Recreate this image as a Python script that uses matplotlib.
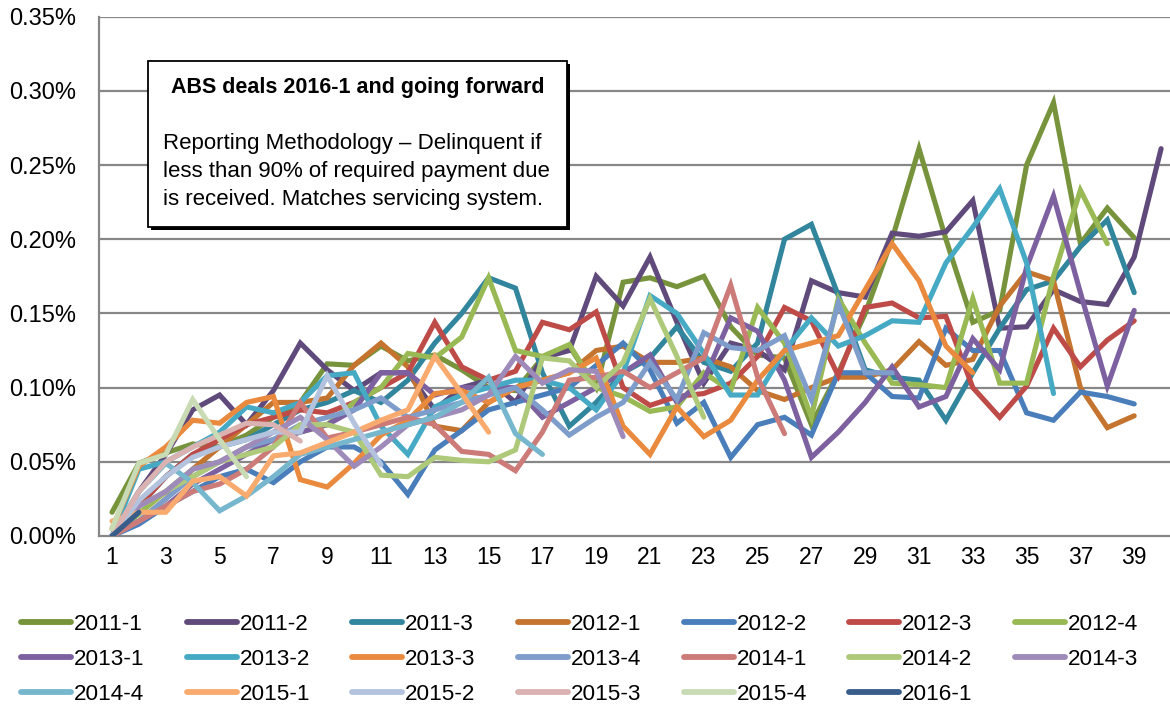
import matplotlib
matplotlib.use("Agg")
import matplotlib.pyplot as plt
from matplotlib.patches import Rectangle

plt.rcParams['font.family'] = ['Liberation Sans', 'DejaVu Sans']

# ---------------- data (delinquency %, by months since issuance) ----------------
labels = ["2011-1", "2011-2", "2011-3", "2012-1", "2012-2", "2012-3", "2012-4",
          "2013-1", "2013-2", "2013-3", "2013-4", "2014-1", "2014-2", "2014-3",
          "2014-4", "2015-1", "2015-2", "2015-3", "2015-4", "2016-1"]

colors = ["#77933C", "#604A7B", "#31859C", "#C4742F", "#4A7EBB", "#BE4B48", "#98B954",
          "#7D60A0", "#46AAC5", "#EA8A3E", "#7F9DCB", "#CC7B79", "#AFC97A", "#9E8BBA",
          "#77B7CD", "#F9AB6F", "#B3C3DE", "#DAB2B1", "#C9DBB4", "#385D8A"]

s2011_1 = [0.016, 0.049, 0.056, 0.062, 0.060, 0.068, 0.080, 0.090, 0.116, 0.115,
           0.128, 0.118, 0.122, 0.112, 0.100, 0.098, 0.120, 0.128, 0.100, 0.171,
           0.174, 0.168, 0.175, 0.141, 0.122, 0.120, 0.075, 0.110, 0.150, 0.200,
           0.261, 0.200, 0.144, 0.152, 0.250, 0.292, 0.197, 0.221, 0.201]
s2011_2 = [0.000, 0.030, 0.055, 0.085, 0.095, 0.075, 0.098, 0.130, 0.112, 0.098,
           0.110, 0.110, 0.085, 0.100, 0.105, 0.090, 0.120, 0.125, 0.175, 0.155,
           0.188, 0.144, 0.103, 0.130, 0.125, 0.112, 0.172, 0.164, 0.161, 0.204,
           0.202, 0.205, 0.226, 0.140, 0.141, 0.166, 0.158, 0.156, 0.188, 0.261]
s2011_3 = [0.000, 0.020, 0.040, 0.055, 0.060, 0.065, 0.075, 0.085, 0.090, 0.098,
           0.090, 0.105, 0.130, 0.150, 0.174, 0.167, 0.110, 0.074, 0.090, 0.110,
           0.120, 0.141, 0.117, 0.111, 0.130, 0.200, 0.210, 0.162, 0.112, 0.107,
           0.105, 0.078, 0.110, 0.140, 0.166, 0.172, 0.195, 0.213, 0.164]
s2012_1 = [0.000, 0.010, 0.025, 0.045, 0.060, 0.075, 0.090, 0.090, 0.093, 0.115,
           0.130, 0.114, 0.074, 0.071, 0.090, 0.100, 0.105, 0.110, 0.125, 0.128,
           0.117, 0.117, 0.120, 0.114, 0.098, 0.092, 0.100, 0.107, 0.107, 0.112,
           0.131, 0.115, 0.119, 0.155, 0.178, 0.172, 0.100, 0.073, 0.081]
s2012_2 = [0.000, 0.008, 0.020, 0.030, 0.040, 0.045, 0.036, 0.050, 0.060, 0.060,
           0.050, 0.028, 0.058, 0.071, 0.085, 0.090, 0.095, 0.100, 0.115, 0.130,
           0.112, 0.076, 0.090, 0.053, 0.075, 0.080, 0.068, 0.110, 0.110, 0.094,
           0.093, 0.140, 0.125, 0.125, 0.083, 0.078, 0.097, 0.094, 0.089]
s2012_3 = [0.000, 0.020, 0.040, 0.055, 0.065, 0.075, 0.080, 0.085, 0.083, 0.090,
           0.100, 0.110, 0.144, 0.114, 0.105, 0.111, 0.144, 0.139, 0.151, 0.100,
           0.088, 0.094, 0.096, 0.103, 0.121, 0.154, 0.145, 0.108, 0.154, 0.157,
           0.147, 0.148, 0.100, 0.080, 0.101, 0.140, 0.114, 0.132, 0.145]
s2012_4 = [0.000, 0.015, 0.030, 0.045, 0.050, 0.060, 0.065, 0.070, 0.075, 0.090,
           0.100, 0.123, 0.120, 0.134, 0.174, 0.125, 0.121, 0.129, 0.100, 0.094,
           0.084, 0.087, 0.110, 0.098, 0.154, 0.130, 0.080, 0.160, 0.130, 0.103,
           0.102, 0.100, 0.160, 0.103, 0.103, 0.175, 0.233, 0.197]
s2013_1 = [0.000, 0.010, 0.020, 0.035, 0.045, 0.055, 0.065, 0.070, 0.075, 0.085,
           0.110, 0.110, 0.095, 0.100, 0.100, 0.100, 0.080, 0.090, 0.100, 0.110,
           0.122, 0.090, 0.105, 0.147, 0.138, 0.105, 0.053, 0.070, 0.090, 0.114,
           0.087, 0.094, 0.133, 0.112, 0.181, 0.229, 0.164, 0.101, 0.152]
s2013_2 = [0.000, 0.045, 0.050, 0.060, 0.070, 0.087, 0.083, 0.090, 0.108, 0.110,
           0.074, 0.055, 0.087, 0.095, 0.100, 0.105, 0.105, 0.100, 0.085, 0.110,
           0.162, 0.150, 0.123, 0.095, 0.095, 0.125, 0.147, 0.128, 0.135, 0.145,
           0.144, 0.184, 0.208, 0.234, 0.184, 0.096]
s2013_3 = [0.005, 0.047, 0.060, 0.078, 0.076, 0.090, 0.094, 0.038, 0.033, 0.049,
           0.068, 0.078, 0.096, 0.098, 0.090, 0.100, 0.105, 0.110, 0.120, 0.074,
           0.055, 0.087, 0.067, 0.078, 0.105, 0.125, 0.130, 0.135, 0.166, 0.197,
           0.172, 0.128, 0.110]
s2013_4 = [0.000, 0.010, 0.025, 0.040, 0.050, 0.060, 0.065, 0.075, 0.080, 0.085,
           0.093, 0.080, 0.085, 0.090, 0.095, 0.100, 0.085, 0.068, 0.080, 0.090,
           0.117, 0.092, 0.137, 0.127, 0.125, 0.135, 0.092, 0.157, 0.110, 0.110]
s2014_1 = [0.000, 0.010, 0.020, 0.030, 0.035, 0.045, 0.060, 0.090, 0.066, 0.070,
           0.075, 0.080, 0.075, 0.057, 0.055, 0.044, 0.070, 0.105, 0.107, 0.111,
           0.100, 0.110, 0.120, 0.169, 0.107, 0.069]
s2014_2 = [0.000, 0.020, 0.030, 0.040, 0.050, 0.055, 0.060, 0.075, 0.075, 0.070,
           0.041, 0.040, 0.053, 0.051, 0.050, 0.058, 0.120, 0.118, 0.100, 0.117,
           0.160, 0.121, 0.080]
s2014_3 = [0.000, 0.020, 0.030, 0.045, 0.050, 0.060, 0.070, 0.080, 0.065, 0.047,
           0.060, 0.075, 0.080, 0.085, 0.095, 0.121, 0.103, 0.112, 0.111, 0.067]
s2014_4 = [0.000, 0.030, 0.049, 0.036, 0.017, 0.027, 0.040, 0.055, 0.060, 0.065,
           0.070, 0.075, 0.080, 0.090, 0.107, 0.069, 0.055]
s2015_1 = [0.010, 0.016, 0.016, 0.037, 0.040, 0.027, 0.054, 0.056, 0.063, 0.070,
           0.078, 0.085, 0.121, 0.096, 0.070]
s2015_2 = [0.000, 0.024, 0.040, 0.053, 0.060, 0.065, 0.070, 0.070, 0.108, 0.076, 0.048]
s2015_3 = [0.000, 0.030, 0.050, 0.060, 0.068, 0.076, 0.075, 0.064]
s2015_4 = [0.005, 0.049, 0.055, 0.092, 0.065, 0.040]
s2016_1 = [0.000, 0.016]

series = [s2011_1, s2011_2, s2011_3, s2012_1, s2012_2, s2012_3, s2012_4,
          s2013_1, s2013_2, s2013_3, s2013_4, s2014_1, s2014_2, s2014_3,
          s2014_4, s2015_1, s2015_2, s2015_3, s2015_4, s2016_1]

y_ticks = [0.00, 0.05, 0.10, 0.15, 0.20, 0.25, 0.30, 0.35]

box_title = "ABS deals 2016-1 and going forward"
box_lines = ["Reporting Methodology \u2013 Delinquent if",
             "less than 90% of required payment due",
             "is received. Matches servicing system."]

# ---------------- layout ----------------
W, H = 1170, 707
fig = plt.figure(figsize=(W / 100, H / 100), dpi=100)

step = 26.9
x_first = 112.0
ax_left_px = x_first - step / 2
y0_px, ytop_px = 536.0, 536.0 - 0.35 * 1484
ax = fig.add_axes([ax_left_px / W, (H - y0_px) / H, (W - ax_left_px) / W,
                   (y0_px - ytop_px) / H])
ax.set_xlim(0.5, 0.5 + (W - ax_left_px) / step)
ax.set_ylim(0, 0.35)

grid_c = "#878787"
for v in y_ticks[1:]:
    ax.axhline(v, color=grid_c, lw=1.6, zorder=1)

LW = 3.7
lines = []
for i, (lab, col, s) in enumerate(zip(labels, colors, series)):
    xs = list(range(1, len(s) + 1))
    ln, = ax.plot(xs, s, color=col, lw=LW, label=lab, zorder=2 + i * 0.01,
                  solid_joinstyle='miter', solid_capstyle='round')
    lines.append(ln)

for sp in ['top', 'right']:
    ax.spines[sp].set_visible(False)
for sp in ['left', 'bottom']:
    ax.spines[sp].set_color(grid_c)
    ax.spines[sp].set_linewidth(1.6)
    ax.spines[sp].set_zorder(1.5)

ax.set_yticks(y_ticks)
ax.set_yticklabels([f"{v:.2f}%" for v in y_ticks])
ax.set_xticks(range(1, 41, 2))
ax.set_xticklabels([str(t) for t in range(1, 41, 2)])
ax.tick_params(axis='y', length=0, pad=16, labelsize=17, colors='black')
ax.tick_params(axis='x', length=0, pad=7, labelsize=16.5, colors='black')

# ---------------- text box ----------------
bx0, by0, bx1, by1 = 148, 61, 567, 227
fig.patches.append(Rectangle(((bx0 + 3) / W, (H - by1 - 3) / H), (bx1 - bx0) / W,
                             (by1 - by0) / H, transform=fig.transFigure,
                             facecolor='black', edgecolor='none', zorder=5))
fig.patches.append(Rectangle((bx0 / W, (H - by1) / H), (bx1 - bx0) / W,
                             (by1 - by0) / H, transform=fig.transFigure,
                             facecolor='white', edgecolor='black', lw=1.3, zorder=6))
fig.text((bx0 + bx1) / 2 / W, 1 - 88 / H, box_title, ha='center', va='center',
         fontsize=15.5, fontweight='bold', zorder=7)
for k, t in enumerate(box_lines):
    fig.text(163 / W, 1 - (143 + 28 * k) / H, t, ha='left', va='center',
             fontsize=16, zorder=7)

# ---------------- legend (row-major order) ----------------
order = []
for c in range(7):
    for r in range(3):
        idx = c + 7 * r
        if idx < len(lines):
            order.append(idx)
leg = fig.legend([lines[i] for i in order], [labels[i] for i in order],
                 loc='upper left', bbox_to_anchor=(21 / W, 1 - 614 / H),
                 ncol=7, frameon=False, fontsize=16.2, handlelength=2.22,
                 handletextpad=0.13, columnspacing=1.88, labelspacing=0.62,
                 borderpad=0, borderaxespad=0)
for h in leg.legend_handles:
    h.set_linewidth(4.2)

fig.savefig("out.png", dpi=100)
